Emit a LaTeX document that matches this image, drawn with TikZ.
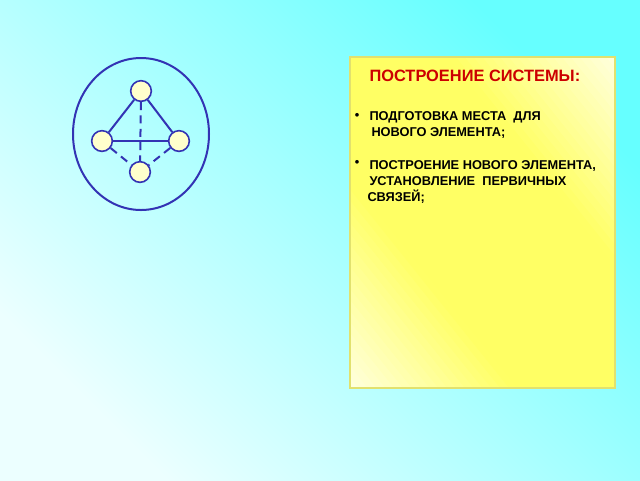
\documentclass[tikz,border=0pt]{standalone}
\usepackage{fontspec}
\setmainfont{Liberation Sans}

\definecolor{bgTop}{RGB}{102,255,255}
\definecolor{bgBottom}{RGB}{236,255,255}
\definecolor{graphBlue}{RGB}{51,51,180}
\definecolor{vertexFill}{RGB}{255,255,204}
\definecolor{boxPale}{RGB}{255,255,222}
\definecolor{boxYellow}{RGB}{255,255,100}
\definecolor{boxEdge}{RGB}{225,225,110}
\definecolor{titleRed}{RGB}{204,0,0}

\tikzset{every picture/.style={line width=0.75pt}}
\tikzset{
  vertex/.style={circle, draw=graphBlue, fill=vertexFill, line width=1.2pt, minimum size=15.5pt, inner sep=0pt},
  link/.style={draw=graphBlue, line width=1.5pt},
  weaklink/.style={link, dash pattern=on 6pt off 4pt},
  itemtext/.style={anchor=base west, inner sep=0pt, font=\fontsize{9.6}{12}\selectfont\bfseries},
  bulletmark/.style={font=\fontsize{9.6}{12}\selectfont\bfseries, inner sep=0pt},
}

\begin{document}
\begin{tikzpicture}[x=0.75pt,y=0.75pt,yscale=-1,xscale=1]
\useasboundingbox (0,0) rectangle (640,480);

%Shape: Background
\shade [top color=bgTop, bottom color=bgBottom, shading angle=-45] (0,0) rectangle (640,480);
%Shape: Ellipse
\draw [graphBlue, line width=1.5pt] (141,134) ellipse (68 and 76);

%Shape: Rectangle, filled in strips along its falling diagonal
\begin{scope}
\clip (350,57) -- (615,57) -- (615,388) -- (350,388) -- cycle ;
\foreach \i in {-30,...,29} {
  \pgfmathsetmacro\ta{\i/30}
  \pgfmathsetmacro\tb{(\i+1.3)/30}
  \pgfmathsetmacro\mix{min(100,100*(1-abs(\i+0.5)/30)/0.62)}
  \fill [boxYellow!\mix!boxPale] ({482.5+\ta*132.5-198.75},{222.5-\ta*165.5-248.25}) -- ({482.5+\ta*132.5+198.75},{222.5-\ta*165.5+248.25}) -- ({482.5+\tb*132.5+198.75},{222.5-\tb*165.5+248.25}) -- ({482.5+\tb*132.5-198.75},{222.5-\tb*165.5-248.25}) -- cycle ;
}
\end{scope}
\draw [boxEdge, line width=0.9pt] (350,57) -- (615,57) -- (615,388) -- (350,388) -- cycle ;

% Vertex Nodes
\draw (141,91) node (vTop) [vertex] {};
\draw (102,141) node (vLeft) [vertex] {};
\draw (179,141) node (vRight) [vertex] {};
\draw (140,172) node (vBottom) [vertex] {};

%Straight Lines
\draw [link] (vTop) -- (vLeft);
\draw [link] (vTop) -- (vRight);
\draw [link] (vLeft) -- (vRight);
%Dashed Lines
\draw [weaklink] (vTop) -- (vBottom);
\draw [weaklink] (vLeft) -- (vBottom);
\draw [weaklink] (vRight) -- (vBottom);

% Text Node
\draw (369,81) node (title) [anchor=base west, inner sep=0pt, text=titleRed, font=\fontsize{12.3}{14}\selectfont\bfseries] {ПОСТРОЕНИЕ СИСТЕМЫ:};
% Text Node
\draw (357,116) node (bulletA) [bulletmark] {•};
\draw (369,120) node (itemAa) [itemtext] {ПОДГОТОВКА МЕСТА\ \ ДЛЯ};
\draw (371,136) node (itemAb) [itemtext] {НОВОГО ЭЛЕМЕНТА;};
% Text Node
\draw (357,163) node (bulletB) [bulletmark] {•};
\draw (369,169) node (itemBa) [itemtext] {ПОСТРОЕНИЕ НОВОГО ЭЛЕМЕНТА,};
\draw (369,185) node (itemBb) [itemtext] {УСТАНОВЛЕНИЕ\ \ ПЕРВИЧНЫХ};
\draw (367,201) node (itemBc) [itemtext] {СВЯЗЕЙ;};

\end{tikzpicture}
\end{document}
